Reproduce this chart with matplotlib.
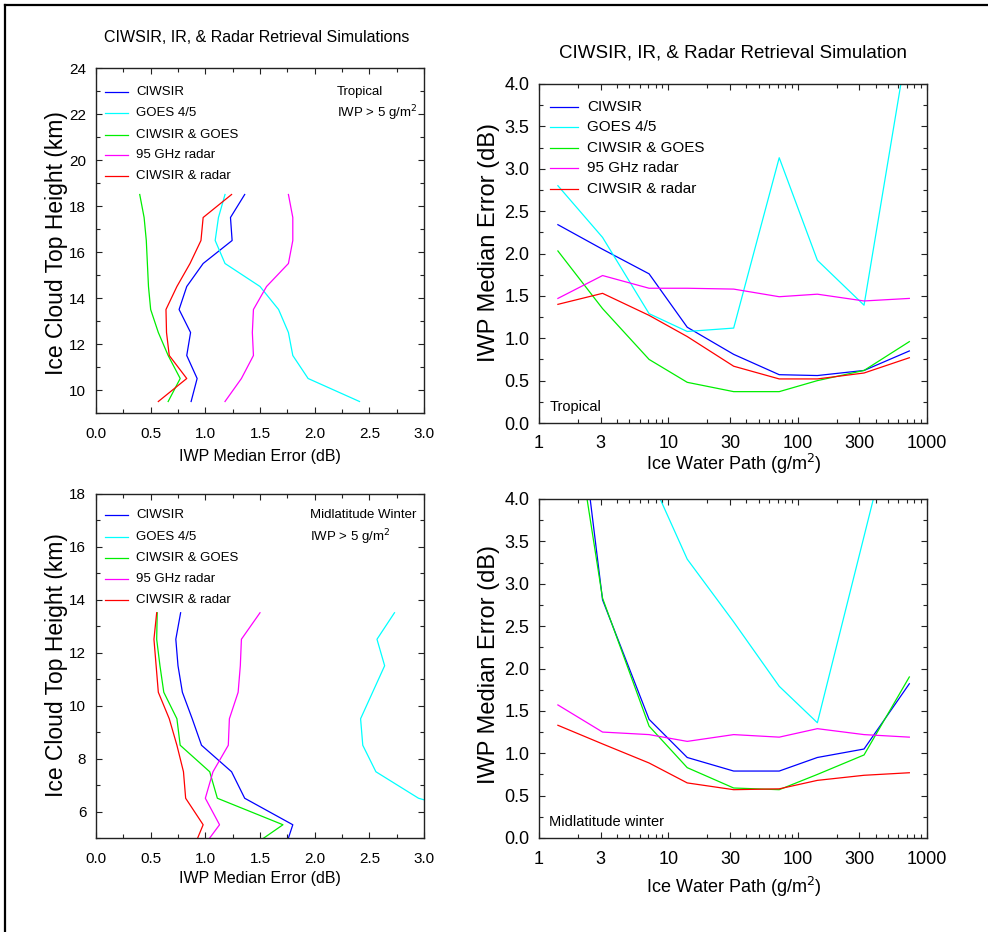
import matplotlib
matplotlib.use("Agg")
import matplotlib.pyplot as plt
from matplotlib.ticker import MultipleLocator, FixedLocator, NullFormatter, FixedFormatter
from matplotlib.lines import Line2D

plt.rcParams['font.family'] = ['Liberation Sans', 'DejaVu Sans']

# ---------------- data ----------------
series_names = ["CIWSIR", "GOES 4/5", "CIWSIR & GOES", "95 GHz radar", "CIWSIR & radar"]
series_colors = ["#0000ff", "#00ffff", "#00ee00", "#ff00ff", "#ff0000"]

heights_trop = [18.5, 17.5, 16.5, 15.5, 14.5, 13.5, 12.5, 11.5, 10.5, 9.5]
trop_prof_ciwsir = [1.36, 1.23, 1.245, 0.98, 0.83, 0.76, 0.865, 0.83, 0.925, 0.87]
trop_prof_goes = [1.18, 1.12, 1.09, 1.18, 1.50, 1.67, 1.76, 1.80, 1.94, 2.41]
trop_prof_comb_goes = [0.40, 0.44, 0.46, 0.47, 0.48, 0.50, 0.57, 0.66, 0.77, 0.66]
trop_prof_radar = [1.76, 1.80, 1.80, 1.76, 1.56, 1.44, 1.43, 1.44, 1.33, 1.18]
trop_prof_comb_radar = [1.24, 0.98, 0.96, 0.86, 0.74, 0.64, 0.645, 0.67, 0.83, 0.57]

heights_mlw = [13.5, 12.5, 11.5, 10.5, 9.5, 8.5, 7.5, 6.5, 5.5, 5.0]
mlw_prof_ciwsir = [0.774, 0.73, 0.75, 0.79, 0.88, 0.965, 1.24, 1.36, 1.80, 1.76]
mlw_prof_goes = [2.73, 2.57, 2.64, 2.53, 2.42, 2.44, 2.56, 2.95, 3.8, 4.0]
mlw_prof_comb_goes = [0.56, 0.555, 0.585, 0.62, 0.74, 0.77, 1.04, 1.11, 1.71, 1.535]
mlw_prof_radar = [1.50, 1.33, 1.32, 1.30, 1.22, 1.21, 1.07, 1.00, 1.13, 1.04]
mlw_prof_comb_radar = [0.555, 0.53, 0.55, 0.57, 0.67, 0.74, 0.80, 0.82, 0.98, 0.93]

iwp = [1.4, 3.1, 7.1, 14, 32, 72, 142, 326, 730]
trop_ciwsir = [2.34, 2.05, 1.76, 1.13, 0.81, 0.57, 0.56, 0.62, 0.85]
trop_goes = [2.80, 2.19, 1.29, 1.08, 1.12, 3.13, 1.92, 1.39, 4.6]
trop_comb_goes = [2.03, 1.35, 0.75, 0.48, 0.37, 0.37, 0.50, 0.62, 0.96]
trop_radar = [1.47, 1.74, 1.59, 1.59, 1.58, 1.49, 1.52, 1.44, 1.47]
trop_comb_radar = [1.40, 1.53, 1.27, 1.02, 0.67, 0.52, 0.52, 0.59, 0.77]

mlw_ciwsir = [7.1, 2.81, 1.40, 0.95, 0.79, 0.79, 0.95, 1.05, 1.82]
mlw_goes = [7.0, 5.5, 4.29, 3.29, 2.55, 1.79, 1.36, 3.56, 5.7]
mlw_comb_goes = [6.2, 2.83, 1.32, 0.83, 0.59, 0.57, 0.75, 0.98, 1.90]
mlw_radar = [1.57, 1.25, 1.22, 1.14, 1.22, 1.19, 1.29, 1.22, 1.19]
mlw_comb_radar = [1.33, 1.11, 0.885, 0.65, 0.57, 0.58, 0.68, 0.74, 0.77]

prof_xticks = [0.0, 0.5, 1.0, 1.5, 2.0, 2.5, 3.0]
iwp_ticks = [1, 3, 10, 30, 100, 300, 1000]
iwp_ticklabels = ["1", "3", "10", "30", "100", "300", "1000"]
err_ticks = [0.0, 0.5, 1.0, 1.5, 2.0, 2.5, 3.0, 3.5, 4.0]

# ---------------- figure ----------------
W, H = 988, 932
fig = plt.figure(figsize=(W / 100, H / 100), dpi=100)


def ax_at(l, t, r, b):
    return fig.add_axes([l / W, 1 - b / H, (r - l) / W, (b - t) / H])


def px(x, y):
    return x / W, 1 - y / H


LW = 0.9


def style_common(ax, fs):
    for s in ax.spines.values():
        s.set_linewidth(1.0)
        s.set_color("#222222")
    ax.tick_params(which="both", direction="in", top=True, right=True,
                   width=0.8, color="#222222", labelsize=fs)
    ax.tick_params(which="major", length=4)
    ax.tick_params(which="minor", length=3)


def profile_panel(ax, heights, data, ylim, yticks):
    for vals, c in zip(data, series_colors):
        ax.plot(vals, heights, color=c, lw=LW)
    ax.set_xlim(0, 3.0)
    ax.set_ylim(*ylim)
    ax.xaxis.set_major_locator(FixedLocator(prof_xticks))
    ax.xaxis.set_major_formatter(FixedFormatter(["%.1f" % v for v in prof_xticks]))
    ax.xaxis.set_minor_locator(MultipleLocator(0.25))
    ax.yaxis.set_major_locator(FixedLocator(yticks))
    ax.yaxis.set_major_formatter(FixedFormatter([str(v) for v in yticks]))
    ax.yaxis.set_minor_locator(MultipleLocator(1))
    style_common(ax, 11)
    ax.tick_params(axis="x", pad=10)
    ax.tick_params(axis="y", pad=7)


def iwp_panel(ax, data):
    for vals, c in zip(data, series_colors):
        ax.plot(iwp, vals, color=c, lw=LW)
    ax.set_xscale("log")
    ax.set_xlim(1, 1000)
    ax.set_ylim(0, 4.0)
    ax.xaxis.set_major_locator(FixedLocator(iwp_ticks))
    ax.xaxis.set_major_formatter(FixedFormatter(iwp_ticklabels))
    minors = [m * d for d in (1, 10, 100) for m in (2, 4, 5, 6, 7, 8, 9)]
    ax.xaxis.set_minor_locator(FixedLocator(minors))
    ax.xaxis.set_minor_formatter(NullFormatter())
    ax.yaxis.set_major_locator(FixedLocator(err_ticks))
    ax.yaxis.set_major_formatter(FixedFormatter(["%.1f" % v for v in err_ticks]))
    ax.yaxis.set_minor_locator(MultipleLocator(0.25))
    style_common(ax, 13)
    ax.tick_params(axis="x", pad=9)
    ax.tick_params(axis="y", pad=7)


def legend_rows(x_line0, x_line1, x_text, ys, fs):
    for name, c, y in zip(series_names, series_colors, ys):
        fig.add_artist(Line2D([x_line0 / W, x_line1 / W], [1 - y / H, 1 - y / H],
                              color=c, lw=LW))
        fig.text(x_text / W, 1 - y / H, name, fontsize=fs, va="center", ha="left")


# Top-left: tropical profile
ax1 = ax_at(96, 68, 424, 413)
profile_panel(ax1, heights_trop,
              [trop_prof_ciwsir, trop_prof_goes, trop_prof_comb_goes, trop_prof_radar, trop_prof_comb_radar],
              (9, 24), [10, 12, 14, 16, 18, 20, 22, 24])
legend_rows(105, 128, 136, [92, 113, 135, 155, 176], 9.5)
fig.text(*px(337, 92), "Tropical", fontsize=9.5, va="center", ha="left")
fig.text(*px(337, 113), "IWP > 5 g/m$^2$", fontsize=9.5, va="center", ha="left")
fig.text(*px(257, 38), "CIWSIR, IR, & Radar Retrieval Simulations", fontsize=11.5,
         ha="center", va="center")
fig.text(*px(260, 457), "IWP Median Error (dB)", fontsize=11.5, ha="center", va="center")
fig.text(*px(56, 243), "Ice Cloud Top Height (km)", fontsize=16.5, ha="center", va="center",
         rotation=90)

# Top-right: tropical vs IWP
ax2 = ax_at(539, 84, 927, 423)
iwp_panel(ax2, [trop_ciwsir, trop_goes, trop_comb_goes, trop_radar, trop_comb_radar])
legend_rows(550, 578, 587, [107, 127, 148, 168, 189], 11)
fig.text(*px(550, 407), "Tropical", fontsize=10.5, va="center", ha="left")
fig.text(*px(733, 53), "CIWSIR, IR, & Radar Retrieval Simulation", fontsize=13.5,
         ha="center", va="center")
fig.text(*px(734, 464), "Ice Water Path (g/m$^2$)", fontsize=13, ha="center", va="center")
fig.text(*px(489, 243), "IWP Median Error (dB)", fontsize=17, ha="center", va="center",
         rotation=90)

# Bottom-left: midlatitude winter profile
ax3 = ax_at(96, 493.5, 424, 838)
profile_panel(ax3, heights_mlw,
              [mlw_prof_ciwsir, mlw_prof_goes, mlw_prof_comb_goes, mlw_prof_radar, mlw_prof_comb_radar],
              (5, 18), [6, 8, 10, 12, 14, 16, 18])
legend_rows(105, 128, 136, [515, 537, 558, 579, 600], 9.5)
fig.text(*px(310, 515), "Midlatitude Winter", fontsize=9.5, va="center", ha="left")
fig.text(*px(310, 537), "IWP > 5 g/m$^2$", fontsize=9.5, va="center", ha="left")
fig.text(*px(260, 878), "IWP Median Error (dB)", fontsize=11.5, ha="center", va="center")
fig.text(*px(56, 665), "Ice Cloud Top Height (km)", fontsize=16.5, ha="center", va="center",
         rotation=90)

# Bottom-right: midlatitude winter vs IWP
ax4 = ax_at(539, 499, 927, 838)
iwp_panel(ax4, [mlw_ciwsir, mlw_goes, mlw_comb_goes, mlw_radar, mlw_comb_radar])
fig.text(*px(549, 822), "Midlatitude winter", fontsize=10.5, va="center", ha="left")
fig.text(*px(734, 887), "Ice Water Path (g/m$^2$)", fontsize=13, ha="center", va="center")
fig.text(*px(489, 665), "IWP Median Error (dB)", fontsize=17, ha="center", va="center",
         rotation=90)

# outer frame (left and top edges)
fig.add_artist(Line2D([5 / W, 5 / W], [0, 1 - 5 / H], color="black", lw=1.6))
fig.add_artist(Line2D([5 / W, 1], [1 - 5 / H, 1 - 5 / H], color="black", lw=1.6))

fig.savefig("out.png", dpi=100)
